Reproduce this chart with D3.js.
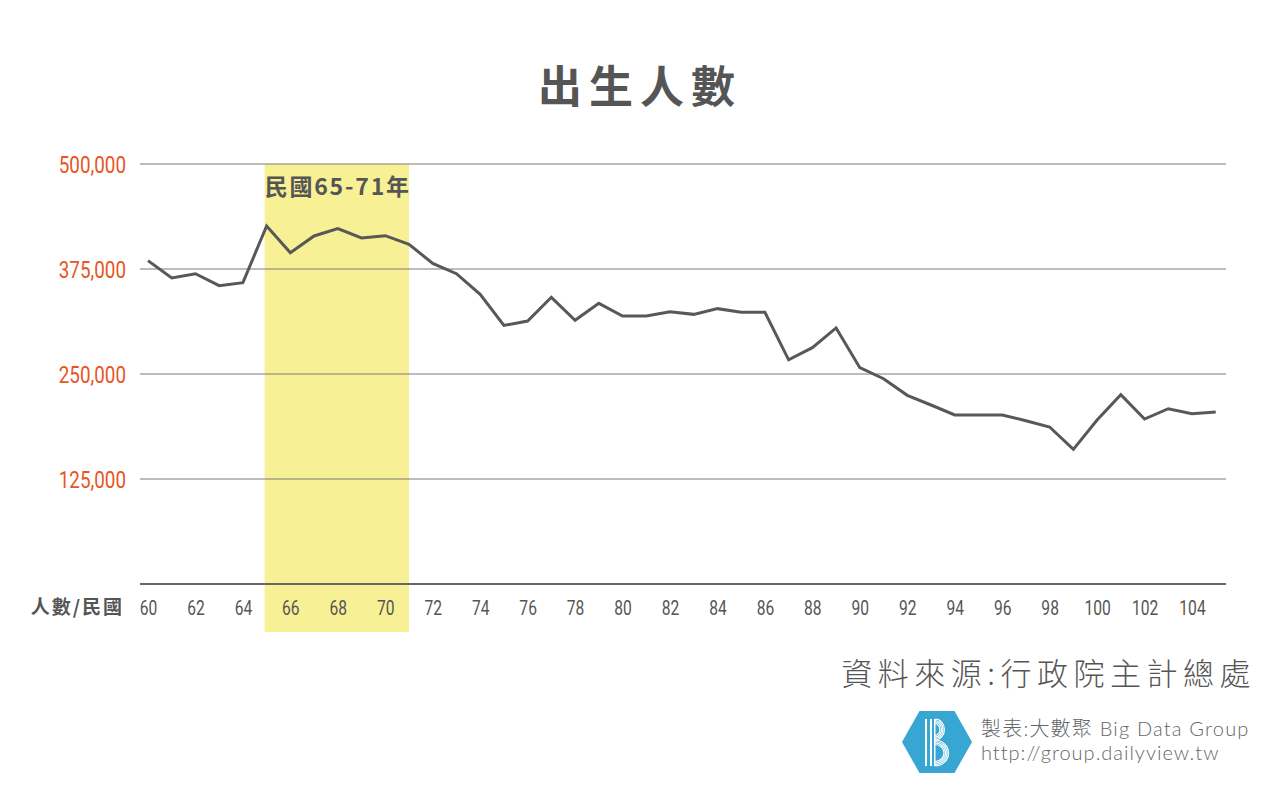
<!DOCTYPE html>
<html><head><meta charset="utf-8">
<script src="https://cdn.jsdelivr.net/npm/d3@7/dist/d3.min.js"></script>
<style>
body{margin:0;background:#fff;}
svg{display:block;}
</style></head>
<body>
<svg id="chart" width="1280" height="801"></svg>
<script>
// Data (ROC years 60-105)
const years = d3.range(60, 106);
const births = [385000,364300,369400,355200,358700,426200,394400,414300,423000,411900,
  414700,404400,381700,369400,344800,307800,313000,341300,313900,334100,
  319000,319000,324200,321000,327800,323400,323400,266900,281400,304800,
  257500,244400,224600,213100,201200,201200,201200,194400,186900,160300,
  195200,225400,196400,208700,202800,204800];
const yTicks = [125000, 250000, 375000, 500000];
const xTicks = d3.range(60, 105, 2);
const highlight = [65, 71];
const titleText = "出生人數";
const highlightLabel = "民國65-71年";
const axisLabel = "人數/民國";
const sourceText = "資料來源:行政院主計總處";
const creditText = "製表:大數聚 Big Data Group";
const urlText = "http://group.dailyview.tw";

const svg = d3.select("#chart");
const numFont = "'Roboto','Liberation Sans',sans-serif";
const cjk = "'Noto Sans CJK TC','Noto Sans CJK SC',sans-serif";
const latinCjk = "'Lato','Noto Sans CJK TC',sans-serif";

const x = d3.scaleLinear().domain([60, 104]).range([148, 1192]);
const y = d3.scaleLinear().domain([0, 500000]).range([584, 164]);

// highlight band
svg.append("rect")
  .attr("x", x(highlight[0]) - 2)
  .attr("y", y(500000))
  .attr("width", x(highlight[1]) - x(highlight[0]) + 2)
  .attr("height", 632 - y(500000))
  .attr("fill", "#f7f095");

// gridlines
svg.append("g").selectAll("line").data(yTicks).join("line")
  .attr("x1", 140).attr("x2", 1226)
  .attr("y1", d => y(d)).attr("y2", d => y(d))
  .attr("stroke", "#7a7a7a").attr("stroke-width", 1);

// baseline
svg.append("line").attr("x1", 140).attr("x2", 1226)
  .attr("y1", y(0)).attr("y2", y(0))
  .attr("stroke", "#666").attr("stroke-width", 2);

// y axis labels
const yAxis = d3.axisLeft(y).tickValues(yTicks).tickFormat(d3.format(",")).tickSize(0).tickPadding(0);
const gy = svg.append("g").attr("transform", "translate(126,0)").call(yAxis);
gy.select(".domain").remove();
gy.selectAll("text").attr("fill", "#e8561f").style("font-family", numFont)
  .style("font-size", "23px").attr("dy", "0.36em").attr("transform", "scale(0.82,1)");

// x axis labels
const xAxis = d3.axisBottom(x).tickValues(xTicks).tickFormat(d => d).tickSize(0).tickPadding(0);
const gx = svg.append("g").attr("transform", "translate(0,607.5)").call(xAxis);
gx.select(".domain").remove();
gx.selectAll("text").attr("fill", "#555").style("font-family", numFont)
  .style("font-size", "20px").attr("dy", "0.36em").attr("transform", "scale(0.78,1)");

svg.append("text").attr("x", 124).attr("y", 607).attr("dy", "0.36em")
  .attr("text-anchor", "end").attr("fill", "#555")
  .style("font-family", cjk).style("font-size", "19px").style("font-weight", "bold")
  .style("letter-spacing", "2px")
  .text(axisLabel);

// line
const line = d3.line().x((d, i) => x(years[i])).y(d => y(d));
svg.append("path").datum(births).attr("d", line)
  .attr("fill", "none").attr("stroke", "#585858").attr("stroke-width", 3)
  .attr("stroke-linejoin", "miter");

// highlight label
svg.append("text").attr("x", x(highlight[0]) - 2).attr("y", 195)
  .attr("fill", "#555").style("font-family", cjk)
  .style("font-size", "23px").style("font-weight", "bold")
  .style("letter-spacing", "1.8px")
  .text(highlightLabel);

// title
svg.append("text").attr("x", 640).attr("y", 88).attr("dy", "0.35em")
  .attr("text-anchor", "middle").attr("fill", "#555")
  .style("font-family", cjk).style("font-size", "44px").style("font-weight", "bold")
  .style("letter-spacing", "7px")
  .text(titleText);

// source
svg.append("text").attr("x", 1256).attr("y", 674).attr("dy", "0.35em")
  .attr("text-anchor", "end").attr("fill", "#555")
  .style("font-family", cjk).style("font-size", "31px").style("font-weight", "300")
  .style("letter-spacing", "5.5px")
  .text(sourceText);

// logo
const lg = svg.append("g").attr("transform", "translate(937,742)");
const hw = 35, hh = 31;
lg.append("path")
  .attr("d", `M${-hw},0 L${-hw/2},${-hh} L${hw/2},${-hh} L${hw},0 L${hw/2},${hh} L${-hw/2},${hh} Z`)
  .attr("fill", "#37a6d3");
// B mark
lg.append("rect").attr("x", -12).attr("y", -23).attr("width", 2).attr("height", 47).attr("fill", "#fff");
lg.append("rect").attr("x", -7).attr("y", -23).attr("width", 2).attr("height", 47).attr("fill", "#fff");
lg.append("rect").attr("x", -3).attr("y", -23).attr("width", 1.5).attr("height", 47).attr("fill", "#fff");
[0, 3, 6, 9].forEach(r => {
  lg.append("path")
    .attr("d", `M-2,${-23 + r / 2} A${9 - r / 2},${10 - r / 2} 0 0 1 -2,${-2 - r / 2}`)
    .attr("fill", "none").attr("stroke", "#fff").attr("stroke-width", 1.2);
  lg.append("path")
    .attr("d", `M-2,${-2 + r / 2} A${13 - r / 2},${12.5 - r / 2} 0 0 1 -2,${24 - r / 2}`)
    .attr("fill", "none").attr("stroke", "#fff").attr("stroke-width", 1.2);
});

svg.append("text").attr("x", 981).attr("y", 729).attr("dy", "0.35em")
  .attr("fill", "#666").style("font-family", latinCjk).style("font-size", "20px")
  .style("font-weight", "300").style("letter-spacing", "1.2px")
  .text(creditText);
svg.append("text").attr("x", 981).attr("y", 753).attr("dy", "0.35em")
  .attr("fill", "#666").style("font-family", latinCjk).style("font-size", "20px")
  .style("font-weight", "300").style("letter-spacing", "1px")
  .text(urlText);
</script>
</body></html>
